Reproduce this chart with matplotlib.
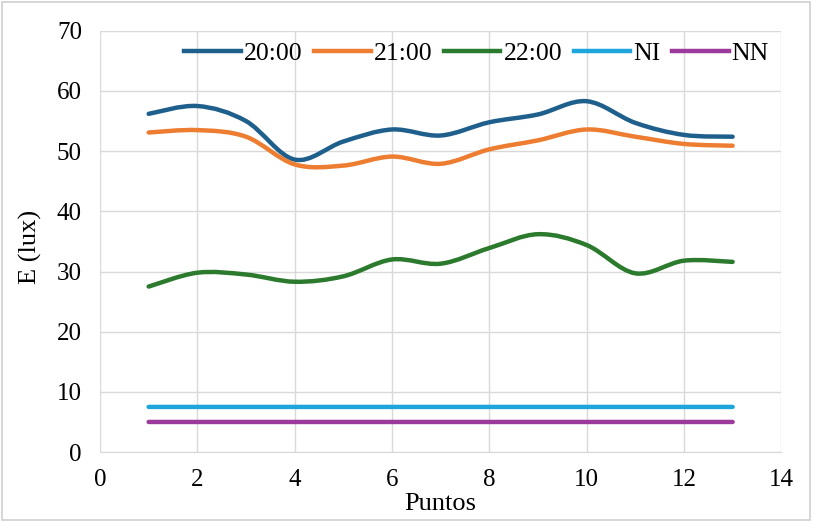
import numpy as np
import matplotlib.pyplot as plt
from matplotlib.path import Path
from matplotlib.patches import PathPatch, Rectangle
from matplotlib.lines import Line2D

plt.rcParams['font.family'] = ['Liberation Serif', 'DejaVu Serif']

puntos = [1, 2, 3, 4, 5, 6, 7, 8, 9, 10, 11, 12, 13]
e_2000 = [56.2, 57.5, 55.0, 48.6, 51.6, 53.6, 52.6, 54.8, 56.1, 58.3, 54.7, 52.7, 52.4]
e_2100 = [53.1, 53.5, 52.4, 47.8, 47.6, 49.1, 47.9, 50.3, 51.8, 53.6, 52.4, 51.2, 50.9]
e_2200 = [27.5, 29.8, 29.5, 28.3, 29.2, 32.0, 31.3, 33.9, 36.2, 34.4, 29.7, 31.8, 31.6]
ni = [7.5] * 13
nn = [5.0] * 13

series = [
    ('20:00', e_2000, '#1f5f8c'),
    ('21:00', e_2100, '#ed7d31'),
    ('22:00', e_2200, '#2b7a2e'),
    ('NI', ni, '#1ea6dc'),
    ('NN', nn, '#9c3a9c'),
]


def smooth_path(x, y):
    # excel style smoothed line: bezier segments through every point
    x = np.asarray(x, float)
    y = np.asarray(y, float)
    verts = [(x[0], y[0])]
    codes = [Path.MOVETO]
    t = 1 / 6
    for i in range(len(x) - 1):
        i0 = max(i - 1, 0)
        i3 = min(i + 2, len(x) - 1)
        c1 = (x[i] + (x[i + 1] - x[i0]) * t, y[i] + (y[i + 1] - y[i0]) * t)
        c2 = (x[i + 1] - (x[i3] - x[i]) * t, y[i + 1] - (y[i3] - y[i]) * t)
        verts += [c1, c2, (x[i + 1], y[i + 1])]
        codes += [Path.CURVE4] * 3
    return Path(verts, codes)


fig = plt.figure(figsize=(8.13, 5.22), dpi=100)
ax = fig.add_axes([0.123, 0.134, 0.838, 0.807])

handles = []
for name, vals, col in series:
    ax.add_patch(PathPatch(smooth_path(puntos, vals), fill=False, edgecolor=col,
                           lw=3.2, capstyle='round', zorder=3))
    handles.append(Line2D([], [], color=col, lw=3.2, label=name))

ax.set_xlim(0, 14)
ax.set_ylim(0, 70)
ax.set_xticks(range(0, 15, 2))
ax.set_yticks(range(0, 71, 10))
ax.grid(True, color='#d9d9d9', lw=1)
ax.set_axisbelow(True)
for s in ['top', 'right', 'left']:
    ax.spines[s].set_visible(False)
ax.spines['bottom'].set_color('#d9d9d9')
ax.tick_params(length=0, labelsize=18)
ax.tick_params(axis='y', pad=13)
ax.tick_params(axis='x', pad=12)
ax.set_xlabel('Puntos', fontsize=19)
ax.xaxis.set_label_coords(0.5, -0.097)
ax.set_ylabel('E (lux)', fontsize=19)
ax.yaxis.set_label_coords(-0.085, 0.487)

ax.legend(handles=handles, ncol=5, loc='center right', bbox_to_anchor=(0.982, 0.945),
          frameon=False, fontsize=18.5, handlelength=2.2, handletextpad=0.12,
          columnspacing=0.45, borderpad=0, borderaxespad=0)

fig.add_artist(Rectangle((0.003, 0.004), 0.993, 0.992, transform=fig.transFigure,
                         fill=False, edgecolor='#d0d0d0', lw=1.2))

fig.savefig('out.png', dpi=100)
